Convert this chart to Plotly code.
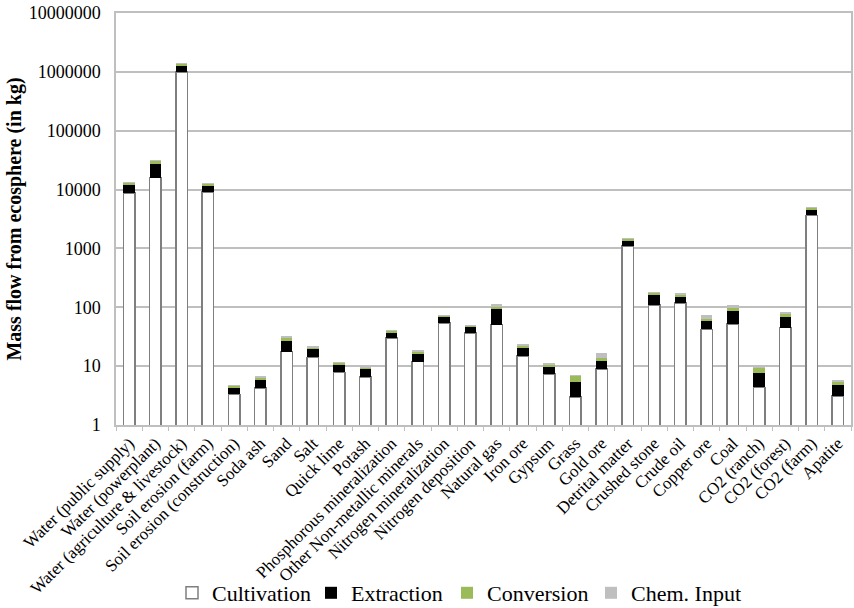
import plotly.graph_objects as go

# Mass flow from the ecosphere per resource, split by process stage (kg)
categories = [
    "Water (public supply)", "Water (powerplant)", "Water (agriculture & livestock)",
    "Soil erosion (farm)", "Soil erosion (construction)", "Soda ash", "Sand", "Salt",
    "Quick lime", "Potash", "Phosphorous mineralization", "Other Non-metallic minerals",
    "Nitrogen mineralization", "Nitrogen deposition", "Natural gas", "Iron ore", "Gypsum",
    "Grass", "Gold ore", "Detrital matter", "Crushed stone", "Crude oil", "Copper ore",
    "Coal", "CO2 (ranch)", "CO2 (forest)", "CO2 (farm)", "Apatite",
]

cultivation = [8800, 16000, 1000000, 9100, 3.3, 4.25, 17.6, 14.1, 7.85, 6.5, 30, 11.9,
               54.6, 36.9, 51, 14.8, 7.3, 3.0, 9.0, 1095, 109, 119, 42, 52, 4.37, 45, 3630, 3.1]
extraction = [3500, 11000, 260000, 2800, 1.0, 1.55, 9.1, 5.4, 2.85, 2.5, 6.9, 4.6,
              14.4, 9.8, 41, 5.2, 2.6, 2.4, 3.7, 250, 54, 32, 15.6, 35, 3.36, 24, 960, 1.6]
conversion = [700, 3700, 120000, 900, 0.3, 0.65, 4.1, 1.6, 0.7, 0.55, 3.1, 1.3,
              3.8, 2.5, 10, 2.2, 0.8, 1.4, 1.0, 110, 13, 15, 4.8, 12.6, 1.67, 9.7, 310, 0.8]
chem_input = [150, 400, 10000, 100, 0.05, 0.2, 2.0, 0.9, 0.2, 0.1, 0.6, 0.9,
              0.8, 0.5, 13, 1.5, 0.3, 0.2, 3.2, 40, 3, 3, 10.4, 8, 0.2, 5, 60, 0.1]

tick_vals = [1, 10, 100, 1000, 10000, 100000, 1000000, 10000000]
tick_text = ["1", "10", "100", "1000", "10000", "100000", "1000000", "10000000"]

serif = "Liberation Serif"
grid_col = "#BFBFBF"

# name, values, fill, outline, legend id, legend left edge (px)
series = [
    ("Cultivation", cultivation, "#FFFFFF", dict(color="#7F7F7F", width=1.5), "legend", 172),
    ("Extraction", extraction, "#000000", dict(color="#000000", width=0), "legend2", 311),
    ("Conversion", conversion, "#9BBB59", dict(color="#9BBB59", width=0), "legend3", 447),
    ("Chem. Input", chem_input, "#BFBFBF", dict(color="#BFBFBF", width=0), "legend4", 591),
]

W, H = 854, 608
fig = go.Figure()
legend_layouts = {}
for name, vals, col, line, leg, left in series:
    fig.add_trace(go.Bar(
        name=name, x=categories, y=vals,
        marker=dict(color=col, line=line),
        legend=leg,
    ))
    legend_layouts[leg] = dict(
        orientation="h",
        xref="container", yref="container",
        x=left / W, xanchor="left",
        y=15 / H, yanchor="middle",
        bgcolor="rgba(0,0,0,0)",
        font=dict(family=serif, size=22, color="#000000"),
    )

fig.update_layout(
    barmode="stack",
    bargap=0.56,
    width=W, height=H,
    margin=dict(l=116, r=3, t=13, b=183, autoexpand=False),
    paper_bgcolor="white", plot_bgcolor="white",
    font=dict(family=serif, color="#000000"),
    showlegend=True,
    **legend_layouts,
)

fig.update_yaxes(
    type="log", range=[0, 7],
    tickvals=tick_vals, ticktext=tick_text,
    tickfont=dict(family=serif, size=18, color="#000000"),
    ticklabelstandoff=10,
    showgrid=True, gridcolor=grid_col, gridwidth=1.5,
    showline=True, linecolor=grid_col, linewidth=1.5, mirror=True,
    ticks="", zeroline=False, automargin=False,
    title=dict(text="<b>Mass flow from ecosphere (in kg)</b>",
               font=dict(family=serif, size=20, color="#000000"), standoff=2),
)
fig.update_xaxes(
    tickangle=-45, automargin=False,
    tickfont=dict(family=serif, size=17, color="#000000"),
    showline=True, linecolor=grid_col, linewidth=1.5, mirror=True,
    ticks="outside", tickson="boundaries", ticklen=4, tickcolor=grid_col,
    showgrid=False,
)

fig.write_html("out.html")
